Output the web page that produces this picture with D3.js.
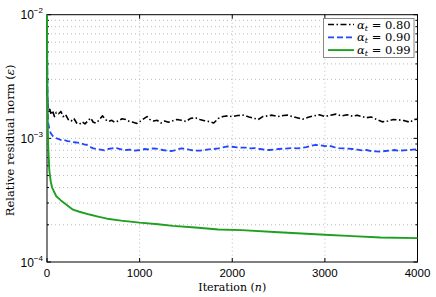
<!DOCTYPE html>
<html>
<head>
<meta charset="utf-8">
<script src="https://cdn.jsdelivr.net/npm/d3@7"></script>
<style>
  body { margin: 0; background: #fff; }
  svg { display: block; }
  .serif { font-family: "DejaVu Serif", serif; }
  .sans { font-family: "Liberation Sans", Arial, sans-serif; }
</style>
</head>
<body>
<svg id="chart" width="436" height="297"></svg>
<script>
// residual norm vs iteration
const n80 = [0,4,10,20,30,45,60,80,100,125,150,175,200,230,260,290,320,350,380,410,440,470,500,530,560,600,630,660,700,730,770,810,850,890,930,970,1010,1050,1080,1110,1150,1190,1230,1270,1310,1350,1400,1450,1500,1550,1600,1650,1700,1760,1800,1850,1900,1950,2000,2060,2120,2180,2240,2280,2330,2380,2430,2490,2550,2600,2650,2700,2760,2820,2880,2940,3000,3060,3120,3180,3240,3300,3350,3400,3450,3500,3560,3620,3680,3740,3800,3860,3920,3960,4000];
const e80 = [1e-2,2.2e-3,1.8e-3,1.62e-3,1.72e-3,1.55e-3,1.68e-3,1.5e-3,1.62e-3,1.58e-3,1.65e-3,1.5e-3,1.56e-3,1.42e-3,1.38e-3,1.45e-3,1.33e-3,1.3e-3,1.36e-3,1.31e-3,1.38e-3,1.46e-3,1.35e-3,1.33e-3,1.4e-3,1.52e-3,1.42e-3,1.37e-3,1.4e-3,1.35e-3,1.38e-3,1.44e-3,1.42e-3,1.37e-3,1.35e-3,1.32e-3,1.38e-3,1.45e-3,1.5e-3,1.42e-3,1.38e-3,1.4e-3,1.33e-3,1.38e-3,1.35e-3,1.38e-3,1.42e-3,1.4e-3,1.37e-3,1.45e-3,1.47e-3,1.42e-3,1.39e-3,1.36e-3,1.33e-3,1.45e-3,1.5e-3,1.52e-3,1.5e-3,1.53e-3,1.54e-3,1.49e-3,1.45e-3,1.42e-3,1.5e-3,1.52e-3,1.54e-3,1.5e-3,1.53e-3,1.54e-3,1.5e-3,1.47e-3,1.43e-3,1.48e-3,1.52e-3,1.55e-3,1.5e-3,1.54e-3,1.57e-3,1.52e-3,1.55e-3,1.51e-3,1.54e-3,1.5e-3,1.47e-3,1.49e-3,1.42e-3,1.36e-3,1.38e-3,1.42e-3,1.41e-3,1.39e-3,1.35e-3,1.42e-3,1.43e-3];

const n90 = [0,3,6,10,15,25,40,65,90,120,150,180,220,260,290,330,370,400,430,470,500,540,580,620,660,700,750,800,850,900,950,1000,1050,1100,1150,1200,1250,1300,1350,1400,1450,1500,1550,1600,1650,1700,1750,1800,1850,1900,1950,2000,2050,2100,2150,2200,2250,2300,2350,2400,2450,2500,2550,2600,2650,2700,2750,2800,2850,2900,2950,3000,3050,3100,3150,3200,3250,3300,3350,3400,3450,3500,3550,3600,3650,3700,3750,3800,3850,3900,3950,4000];
const e90 = [1e-2,3.8e-3,2e-3,1.45e-3,1.3e-3,1.2e-3,1.1e-3,1.04e-3,1.01e-3,9.9e-4,9.7e-4,9.75e-4,9.5e-4,9.45e-4,9.3e-4,9.25e-4,9.1e-4,8.95e-4,8.85e-4,8.5e-4,8.3e-4,8.2e-4,8.1e-4,8.0e-4,8.2e-4,8.3e-4,8.35e-4,8.15e-4,8.05e-4,8.1e-4,7.95e-4,8.05e-4,8.2e-4,8.15e-4,8.3e-4,8.2e-4,8.05e-4,7.95e-4,7.9e-4,8.1e-4,8.3e-4,8.25e-4,8.05e-4,7.95e-4,7.95e-4,8.05e-4,8.15e-4,8.2e-4,8.3e-4,8.45e-4,8.6e-4,8.55e-4,8.45e-4,8.4e-4,8.4e-4,8.3e-4,8.35e-4,8.2e-4,8.1e-4,8.05e-4,8.1e-4,8.2e-4,8.25e-4,8.3e-4,8.35e-4,8.3e-4,8.35e-4,8.5e-4,8.7e-4,8.85e-4,8.8e-4,8.65e-4,8.7e-4,8.5e-4,8.35e-4,8.3e-4,8.25e-4,8.2e-4,8.1e-4,8.0e-4,8.05e-4,7.9e-4,7.85e-4,7.8e-4,7.9e-4,7.95e-4,8.05e-4,7.95e-4,8.0e-4,8.05e-4,8.1e-4,8.15e-4];

const n99 = [0,2,5,10,15,25,40,55,100,150,200,280,350,460,550,650,800,1000,1200,1360,1600,1850,2100,2500,3000,3300,3600,4000];
const e99 = [1e-2,4e-3,2e-3,1.1e-3,8e-4,5.5e-4,4.5e-4,4e-4,3.4e-4,3.15e-4,2.95e-4,2.65e-4,2.55e-4,2.42e-4,2.33e-4,2.24e-4,2.16e-4,2.08e-4,2.02e-4,1.96e-4,1.9e-4,1.83e-4,1.81e-4,1.74e-4,1.66e-4,1.62e-4,1.58e-4,1.56e-4];

const alphas = ['0.80', '0.90', '0.99'];
const xTicks = [0, 1000, 2000, 3000, 4000];
const yMajor = [1e-4, 1e-3, 1e-2];

const series = [
  {n: n80, e: e80, color: '#000', dash: '6,2.5,1.5,2.5', width: 1.6},
  {n: n90, e: e90, color: '#2246ff', dash: '6,3', width: 1.8},
  {n: n99, e: e99, color: '#1ea01e', dash: null, width: 1.9}
];

const L = 47, R = 417.5, T = 14.7, B = 262;
const svg = d3.select('#chart');
const x = d3.scaleLinear().domain([0, 4000]).range([L, R]);
const y = d3.scaleLog().domain([1e-4, 1e-2]).range([B, T]);

// minor decades
const yMinor = [];
for (let d = -4; d < -2; d++)
  for (let k = 2; k <= 9; k++) yMinor.push(k * Math.pow(10, d));

const grid = svg.append('g')
  .attr('stroke', '#aaa').attr('stroke-width', 0.8)
  .attr('stroke-dasharray', '1,3');
grid.selectAll('.hg').data(yMinor.concat([1e-3]))
  .join('line')
  .attr('x1', L).attr('x2', R)
  .attr('y1', d => y(d)).attr('y2', d => y(d));
grid.selectAll('.vg').data(xTicks.slice(1, -1))
  .join('line')
  .attr('y1', T).attr('y2', B)
  .attr('x1', d => x(d)).attr('x2', d => x(d));

// axes frame + inward ticks
const ax = svg.append('g').attr('stroke', '#000').attr('stroke-width', 1);
ax.append('rect').attr('x', L).attr('y', T).attr('width', R - L).attr('height', B - T)
  .attr('fill', 'none');
xTicks.forEach(t => {
  ax.append('line').attr('x1', x(t)).attr('x2', x(t)).attr('y1', B).attr('y2', B - 4);
  ax.append('line').attr('x1', x(t)).attr('x2', x(t)).attr('y1', T).attr('y2', T + 4);
});
yMajor.forEach(t => {
  ax.append('line').attr('x1', L).attr('x2', L + 4).attr('y1', y(t)).attr('y2', y(t));
  ax.append('line').attr('x1', R).attr('x2', R - 4).attr('y1', y(t)).attr('y2', y(t));
});
yMinor.forEach(t => {
  ax.append('line').attr('x1', L).attr('x2', L + 2).attr('y1', y(t)).attr('y2', y(t));
  ax.append('line').attr('x1', R).attr('x2', R - 2).attr('y1', y(t)).attr('y2', y(t));
});

// tick labels
svg.append('g').attr('class', 'sans').attr('font-size', 11.5).attr('text-anchor', 'middle')
  .selectAll('text').data(xTicks).join('text')
  .attr('x', d => x(d)).attr('y', B + 14.5)
  .text(d => d);

const yl = svg.append('g').attr('class', 'sans');
yMajor.forEach(t => {
  const tx = yl.append('text').attr('x', 20.5).attr('y', y(t) + 4.5).attr('font-size', 12);
  tx.append('tspan').text('10');
  tx.append('tspan').attr('font-size', 8).attr('dy', -6).text('\u2212' + (-Math.log10(t)).toFixed(0));
});

// curves
const line = d3.line().x(d => x(d[0])).y(d => y(d[1]));
const plot = svg.append('g');
series.forEach(s => {
  plot.append('path')
    .datum(s.n.map((v, i) => [v, s.e[i]]))
    .attr('d', line)
    .attr('fill', 'none')
    .attr('stroke', s.color)
    .attr('stroke-width', s.width)
    .attr('stroke-dasharray', s.dash)
    .attr('stroke-linejoin', 'round');
});

// axis labels
const xlab = svg.append('text').attr('class', 'serif').attr('font-size', 11)
  .attr('x', (L + R) / 2).attr('y', 290.5).attr('text-anchor', 'middle');
xlab.append('tspan').text('Iteration (');
xlab.append('tspan').attr('font-style', 'italic').text('n');
xlab.append('tspan').text(')');

const ylab = svg.append('text').attr('class', 'serif').attr('font-size', 11.5)
  .attr('transform', `translate(14,${(T + B) / 2 + 2}) rotate(-90)`)
  .attr('text-anchor', 'middle');
ylab.append('tspan').text('Relative residual norm (');
ylab.append('tspan').attr('font-style', 'italic').text('\u03b5');
ylab.append('tspan').text(')');

// legend
const lg = svg.append('g');
lg.append('rect').attr('x', 323.5).attr('y', 18.5).attr('width', 90.5).attr('height', 39)
  .attr('fill', '#fff').attr('stroke', '#888').attr('stroke-width', 1);
series.forEach((s, i) => {
  const ly = 24.5 + i * 12.8;
  lg.append('line').attr('x1', 328).attr('x2', 354).attr('y1', ly).attr('y2', ly)
    .attr('stroke', s.color).attr('stroke-width', s.width)
    .attr('stroke-dasharray', s.dash);
  const t = lg.append('text').attr('class', 'serif').attr('font-size', 11.5)
    .attr('x', 357).attr('y', ly + 4);
  t.append('tspan').attr('font-style', 'italic').text('\u03b1');
  t.append('tspan').attr('font-style', 'italic').attr('font-size', 8).attr('dy', 2).text('t');
  t.append('tspan').attr('dy', -2).text(' = ' + alphas[i]);
});
</script>
</body>
</html>
